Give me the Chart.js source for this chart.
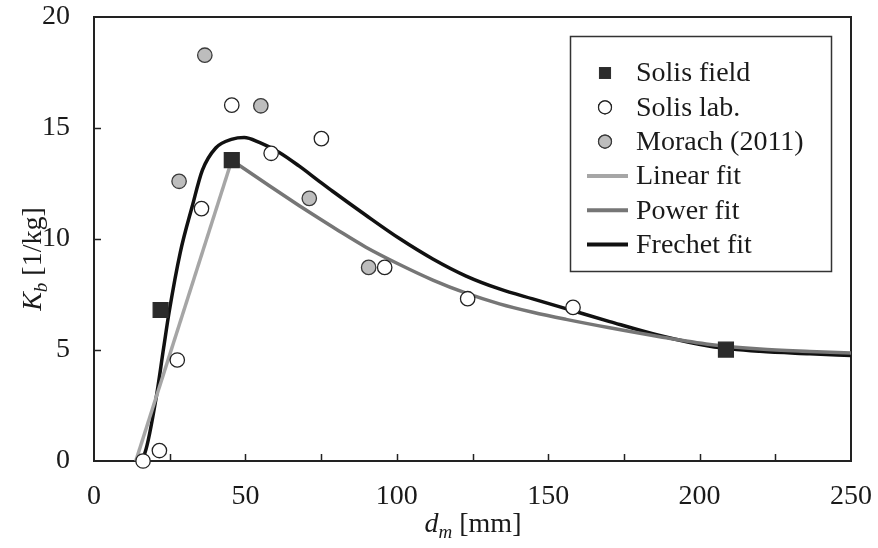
<!DOCTYPE html>
<html>
<head>
<meta charset="utf-8">
<script src="https://cdn.jsdelivr.net/npm/chart.js@4.4.1/dist/chart.umd.min.js"></script>
<style>
  html, body { margin: 0; padding: 0; background: #fff; }
</style>
</head>
<body>
<canvas id="kbChart" width="878" height="548"></canvas>
<script>
// values (d_m in mm, K_b in 1/kg)
var solisFieldX = [22, 45.5, 208.7];
var solisFieldY = [6.8, 13.55, 5.02];

var solisLabX = [16.2, 21.6, 27.5, 35.5, 45.5, 58.5, 75.1, 96, 123.4, 158.2];
var solisLabY = [0, 0.47, 4.55, 11.37, 16.03, 13.86, 14.52, 8.72, 7.31, 6.92];

var morachX = [28.1, 36.6, 55.1, 71.1, 90.7];
var morachY = [12.6, 18.28, 16.0, 11.83, 8.72];

var linearFitX = [13.8, 45.5];
var linearFitY = [0, 13.55];

var powerFitX = [45.5, 57.9, 67.8, 74.4, 80, 89.8, 100.9, 111.9, 122.9, 133.9, 144.9, 155.9, 170.3, 186.8, 203.4, 219.9, 236.4, 250];
var powerFitY = [13.55, 12.4, 11.5, 10.92, 10.44, 9.63, 8.85, 8.15, 7.56, 7.08, 6.7, 6.38, 6.0, 5.6, 5.25, 5.04, 4.93, 4.86];

var frechetFitX = [14, 16.5, 20.4, 23, 24.8, 28.5, 32.4, 35.8, 40.2, 45.7, 49.6, 54.6, 61.2, 67.8, 74.4, 78.8, 89.8, 100.9, 111.9, 122.9, 133.9, 144.9, 155, 170.3, 186.8, 203.4, 219.9, 236.4, 250];
var frechetFitY = [0, 0.25, 2.75, 5.1, 6.7, 9.4, 11.45, 13.1, 14.1, 14.5, 14.57, 14.35, 13.9, 13.28, 12.6, 12.15, 11.07, 10.02, 9.1, 8.33, 7.75, 7.3, 6.9, 6.28, 5.65, 5.17, 4.94, 4.83, 4.75];

var xTicks = [0, 50, 100, 150, 200, 250];
var yTicks = [0, 5, 10, 15, 20];

var serif = "'Liberation Serif', 'Times New Roman', serif";
var ink = "#1a1a1a";

function pairs(xs, ys) {
  return xs.map(function (x, i) { return { x: x, y: ys[i] }; });
}

// frame box + inward tick marks
var framePlugin = {
  id: "frame",
  beforeDatasetsDraw: function (chart) {
    var ctx = chart.ctx;
    var a = chart.chartArea;
    var xs = chart.scales.x, ys = chart.scales.y;
    ctx.save();
    ctx.strokeStyle = "#222";
    ctx.lineWidth = 2;
    ctx.strokeRect(a.left, a.top, a.right - a.left, a.bottom - a.top);
    ctx.lineWidth = 1.5;
    ctx.beginPath();
    for (var v = 25; v < 250; v += 25) {
      var px = Math.round(xs.getPixelForValue(v)) + 0.5;
      ctx.moveTo(px, a.bottom);
      ctx.lineTo(px, a.bottom - 7);
    }
    for (var w = 5; w < 20; w += 5) {
      var py = Math.round(ys.getPixelForValue(w)) + 0.5;
      ctx.moveTo(a.left, py);
      ctx.lineTo(a.left + 7, py);
    }
    ctx.stroke();
    ctx.restore();
  }
};

// axis titles with italic symbol and subscript
function drawSymbolTitle(ctx, sym, sub, rest, cx, cy) {
  var big = "28px " + serif, small = "19px " + serif;
  ctx.font = "italic " + big; var w1 = ctx.measureText(sym).width;
  ctx.font = "italic " + small; var w2 = ctx.measureText(sub).width;
  ctx.font = big; var w3 = ctx.measureText(rest).width;
  var x = cx - (w1 + w2 + w3) / 2;
  ctx.textBaseline = "alphabetic";
  ctx.textAlign = "left";
  ctx.font = "italic " + big; ctx.fillText(sym, x, cy); x += w1;
  ctx.font = "italic " + small; ctx.fillText(sub, x, cy + 6); x += w2;
  ctx.font = big; ctx.fillText(rest, x, cy);
}

var titlePlugin = {
  id: "titles",
  afterDraw: function (chart) {
    var ctx = chart.ctx;
    ctx.save();
    ctx.fillStyle = ink;
    drawSymbolTitle(ctx, "d", "m", " [mm]", 473, 532);
    ctx.translate(41, 259);
    ctx.rotate(-Math.PI / 2);
    drawSymbolTitle(ctx, "K", "b", " [1/kg]", 0, 0);
    ctx.restore();
  }
};

// boxed legend in the upper right of the plot
var legendPlugin = {
  id: "boxLegend",
  afterDraw: function (chart) {
    var ctx = chart.ctx;
    ctx.save();
    ctx.fillStyle = "#fff";
    ctx.fillRect(570, 36, 262, 236);
    ctx.strokeStyle = "#333";
    ctx.lineWidth = 1.5;
    ctx.strokeRect(570.5, 36.5, 261, 235);
    chart.data.datasets.forEach(function (ds, i) {
      var y = 73 + i * 34.3;
      if (ds.showLine) {
        ctx.strokeStyle = ds.borderColor;
        ctx.lineWidth = 4;
        ctx.beginPath();
        ctx.moveTo(587, y);
        ctx.lineTo(628, y);
        ctx.stroke();
      } else {
        Chart.helpers.drawPoint(ctx, {
          pointStyle: ds.pointStyle,
          radius: ds.pointStyle === "rect" ? 7.5 : 6.5,
          borderWidth: 1.2
        }, 605, y);
        ctx.fillStyle = ds.backgroundColor;
        ctx.strokeStyle = ds.borderColor;
        ctx.lineWidth = 1.2;
        ctx.fill();
        if (ds.pointStyle !== "rect") ctx.stroke();
      }
      ctx.fillStyle = ink;
      ctx.font = "28px " + serif;
      ctx.textAlign = "left";
      ctx.textBaseline = "middle";
      ctx.fillText(ds.label, 636, y + 1);
    });
    ctx.restore();
  }
};

var pointSet = function (label, xs, ys, style, fill, edge, r) {
  return {
    label: label,
    data: pairs(xs, ys),
    showLine: false,
    pointStyle: style,
    pointRadius: r,
    pointBorderWidth: 1.3,
    backgroundColor: fill,
    borderColor: edge,
    clip: false
  };
};

var lineSet = function (label, xs, ys, color, smooth) {
  return {
    label: label,
    data: pairs(xs, ys),
    showLine: true,
    pointRadius: 0,
    borderWidth: 3.5,
    borderColor: color,
    backgroundColor: color,
    fill: false,
    cubicInterpolationMode: smooth ? "monotone" : "default",
    tension: 0
  };
};

var kbChart = new Chart(document.getElementById("kbChart"), {
  type: "scatter",
  data: {
    datasets: [
      pointSet("Solis field", solisFieldX, solisFieldY, "rect", "#2b2b2b", "#2b2b2b", 10.5),
      pointSet("Solis lab.", solisLabX, solisLabY, "circle", "#ffffff", "#222222", 7.2),
      pointSet("Morach (2011)", morachX, morachY, "circle", "#bdbdbd", "#3a3a3a", 7.2),
      lineSet("Linear fit", linearFitX, linearFitY, "#a6a6a6", false),
      lineSet("Power fit", powerFitX, powerFitY, "#767676", true),
      lineSet("Frechet fit", frechetFitX, frechetFitY, "#111111", true)
    ]
  },
  options: {
    responsive: false,
    animation: false,
    layout: { padding: { left: 0, right: 27, top: 17, bottom: 0 } },
    plugins: {
      legend: { display: false },
      tooltip: { enabled: false }
    },
    scales: {
      x: {
        type: "linear",
        min: 0,
        max: 250,
        afterBuildTicks: function (scale) {
          scale.ticks = xTicks.map(function (v) { return { value: v }; });
        },
        grid: { display: false, drawTicks: false },
        border: { display: false },
        ticks: { padding: 19, color: ink, maxRotation: 0, font: { family: serif, size: 28 } },
        afterFit: function (scale) {
          scale.height = 87;
          scale.paddingLeft = 0; scale.paddingRight = 0;
          scale.paddingTop = 0; scale.paddingBottom = 0;
        }
      },
      y: {
        type: "linear",
        min: 0,
        max: 20,
        afterBuildTicks: function (scale) {
          scale.ticks = yTicks.map(function (v) { return { value: v }; });
        },
        grid: { display: false, drawTicks: false },
        border: { display: false },
        ticks: { padding: 24, color: ink, font: { family: serif, size: 28 } },
        afterFit: function (scale) {
          scale.width = 94;
          scale.paddingLeft = 0; scale.paddingRight = 0;
          scale.paddingTop = 0; scale.paddingBottom = 0;
        }
      }
    }
  },
  plugins: [framePlugin, titlePlugin, legendPlugin]
});
</script>
</body>
</html>
